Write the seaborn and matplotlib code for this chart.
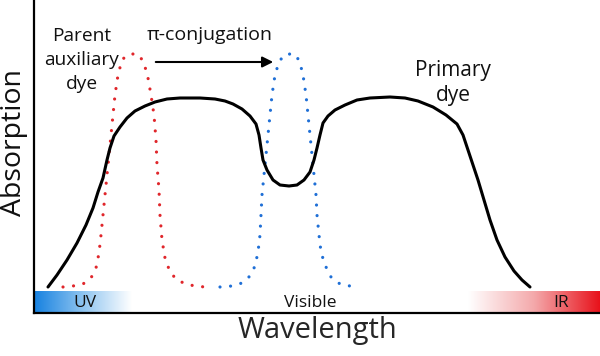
import numpy as np
import pandas as pd
import matplotlib
matplotlib.use("Agg")
import matplotlib.pyplot as plt
import seaborn as sns
from matplotlib.colors import LinearSegmentedColormap

# wavelength (arbitrary units) / absorption (arbitrary units)
primary_x = [48, 57, 67, 77, 86, 93, 98, 103, 107, 110, 114, 120, 127, 135, 145, 155, 167, 180, 200,
             215, 225, 233, 242, 250, 256, 259, 261, 263, 267, 273, 280, 289, 297, 304, 310, 314, 317,
             320, 323, 328, 335, 345, 357, 370, 390, 405, 418, 433, 446, 457, 463, 468, 473, 478, 484,
             490, 497, 505, 514, 522, 530]
primary_y = [26, 38, 53, 70, 88, 105, 121, 135, 153, 165, 177, 186, 195, 202, 207, 211, 214, 215, 215,
             214, 212, 209, 204, 197, 189, 178, 165, 153, 143, 133, 128, 127, 128, 133, 141, 153, 165,
             178, 190, 197, 203, 208, 213, 215, 216, 215, 212, 206, 198, 189, 178, 163, 148, 133, 113,
             93, 73, 56, 42, 33, 26]

parent_x = [63, 73, 83, 91, 96, 99, 101, 103, 105, 107, 109, 111, 113, 115, 118, 122, 127, 133, 139,
            144, 148, 151, 154, 156, 157, 159, 160, 162, 165, 170, 177, 186, 195, 205]
parent_y = [26, 27, 29, 35, 45, 60, 78, 98, 118, 138, 158, 178, 198, 218, 238, 253, 258, 259, 258,
            250, 235, 218, 198, 173, 148, 123, 98, 73, 55, 41, 33, 29, 27, 26]

conj_x = [220, 232, 242, 250, 255, 258, 260, 261, 262, 264, 266, 268, 270, 272, 275, 279, 284, 290,
          296, 300, 303, 306, 308, 310, 312, 314, 316, 317, 319, 321, 325, 331, 340, 350, 358]
conj_y = [26, 27, 30, 37, 47, 61, 78, 98, 118, 138, 158, 178, 198, 218, 238, 251, 258, 259, 258, 250,
          238, 218, 198, 178, 158, 138, 118, 98, 78, 61, 48, 36, 29, 27, 26]

band_labels = ["UV", "Visible", "IR"]
band_label_x = [85, 310, 561]

sns.set_theme(style="white")
plt.rcParams["font.family"] = ["Open Sans", "DejaVu Sans"]

fig = plt.figure(figsize=(6, 3.56), dpi=100)
ax = fig.add_axes([34 / 600, 43 / 356, 566 / 600, 313 / 356])
ax.set_xlim(34, 600)
ax.set_ylim(0, 313)

# spectral bands along the x axis
uv_cmap = LinearSegmentedColormap.from_list("uv", ["#1681e0", "#8ec4f0", "#ffffff"])
ir_cmap = LinearSegmentedColormap.from_list("ir", ["#ffffff", "#f4a9ab", "#e8121b"])
grad = np.linspace(0, 1, 256).reshape(1, -1)
ax.imshow(grad, cmap=uv_cmap, extent=[34, 132, 0, 22], aspect="auto", zorder=0)
ax.imshow(grad, cmap=ir_cmap, extent=[468, 600, 0, 22], aspect="auto", zorder=0)

df_primary = pd.DataFrame({"x": primary_x, "y": primary_y})
df_parent = pd.DataFrame({"x": parent_x, "y": parent_y})
df_conj = pd.DataFrame({"x": conj_x, "y": conj_y})

sns.lineplot(data=df_parent, x="x", y="y", sort=False, ax=ax, color="#e0262b", lw=2.3,
             linestyle=(0, (0.01, 3.3)), dash_capstyle="round", zorder=2)
sns.lineplot(data=df_conj, x="x", y="y", sort=False, ax=ax, color="#1f6fd6", lw=2.3,
             linestyle=(0, (0.01, 3.3)), dash_capstyle="round", zorder=2)
sns.lineplot(data=df_primary, x="x", y="y", sort=False, ax=ax, color="black", lw=2.2, zorder=3)

ax.annotate("", xy=(276, 251), xytext=(153, 251),
            arrowprops=dict(arrowstyle="-|>", color="black", lw=1.5, mutation_scale=16))

ax.text(82, 253, "Parent\nauxiliary\ndye", ha="center", va="center", fontsize=13.8,
        linespacing=1.4, color="#111111")
ax.text(210, 278, "π-conjugation", ha="center", va="center", fontsize=14, color="#111111")
ax.text(453, 230, "Primary\ndye", ha="center", va="center", fontsize=15,
        linespacing=1.2, color="#111111")
for lab, xp in zip(band_labels, band_label_x):
    ax.text(xp, 10, lab, ha="center", va="center", fontsize=12.5, color="#111111")

ax.set_xlabel("Wavelength", fontsize=21, labelpad=2)
ax.set_ylabel("")
fig.text(14 / 600, 1 - 142 / 356, "Absorption", rotation=90, ha="center", va="center",
         fontsize=20.5, color="#111111")
ax.set_xticks([])
ax.set_yticks([])
for s in ["top", "right"]:
    ax.spines[s].set_visible(False)
for s in ["left", "bottom"]:
    ax.spines[s].set_color("black")
    ax.spines[s].set_linewidth(1.6)
    ax.spines[s].set_zorder(4)

fig.savefig("out.png", dpi=100)
